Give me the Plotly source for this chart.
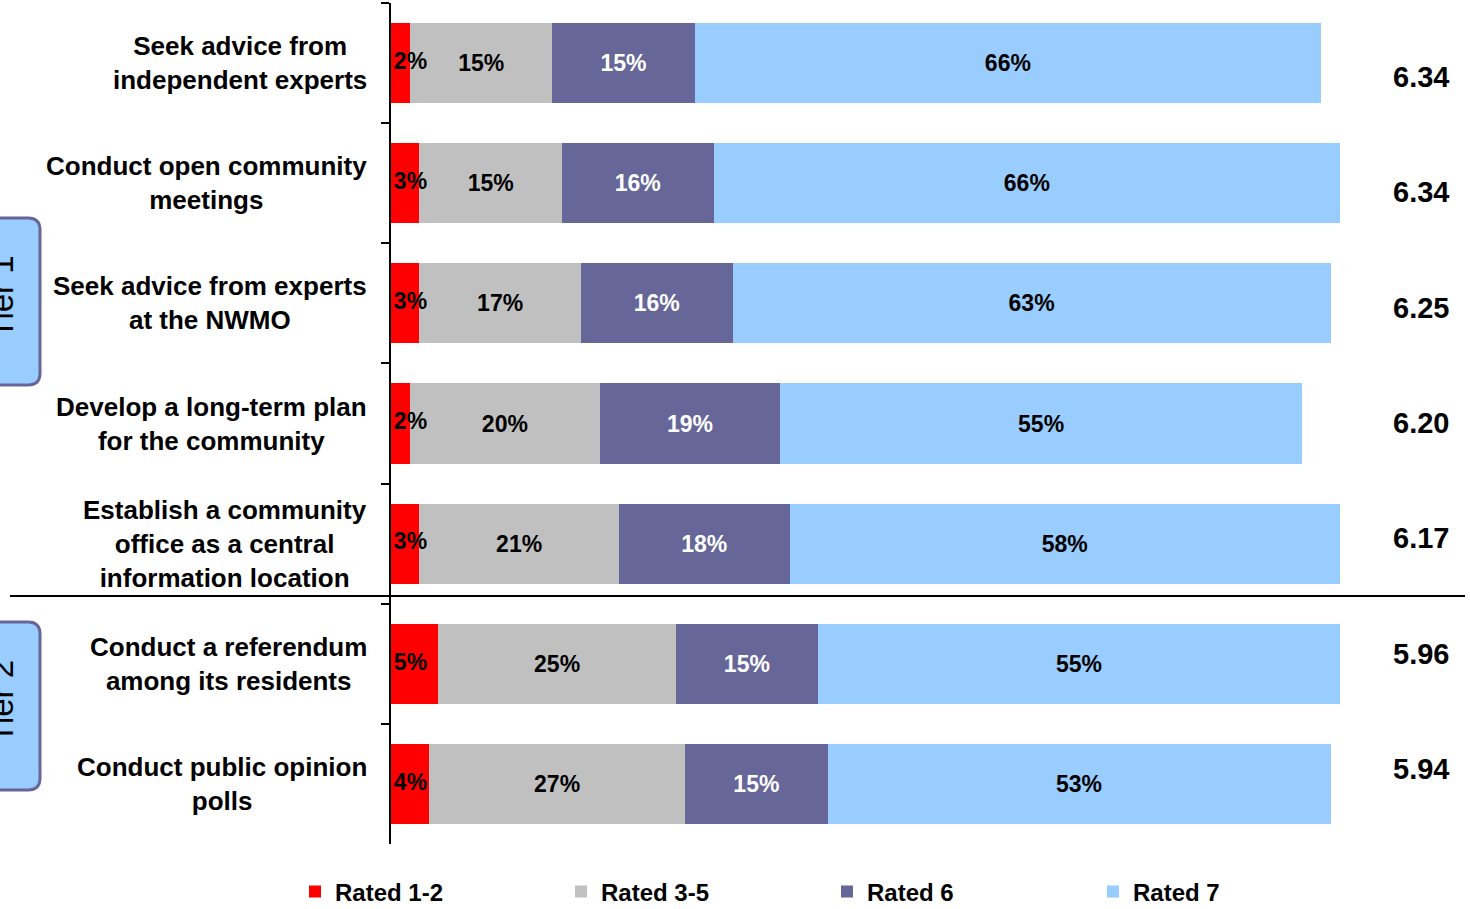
import plotly.graph_objects as go

categories = [
    "Seek advice from<br>independent experts",
    "Conduct open community<br>meetings",
    "Seek advice from experts<br>at the NWMO",
    "Develop a long-term plan<br>for the community",
    "Establish a community<br>office as a central<br>information location",
    "Conduct a referendum<br>among its residents",
    "Conduct public opinion<br>polls",
]
rated_1_2 = [2, 3, 3, 2, 3, 5, 4]
rated_3_5 = [15, 15, 17, 20, 21, 25, 27]
rated_6 = [15, 16, 16, 19, 18, 15, 15]
rated_7 = [66, 66, 63, 55, 58, 55, 53]
means = ["6.34", "6.34", "6.25", "6.20", "6.17", "5.96", "5.94"]
series_names = ["Rated 1-2", "Rated 3-5", "Rated 6", "Rated 7"]
tier_labels = ["Tier 1", "Tier 2"]

colors = ["#FF0000", "#C0C0C0", "#666699", "#99CCFF"]
text_colors = ["black", "black", "white", "black"]

W, H = 1470, 909
ML, MR, MT, MB = 391, 0, 3, 65
PW, PH = W - ML - MR, H - MT - MB
XMAX = 100 * PW / 949.0
LABEL_PAD = 0.3  # small gap between axis line and the red-segment labels

def px_x(px):
    return (px - ML) / PW

def px_y(py):
    return (H - MB - py) / PH

FONT = "Liberation Sans, Arial, sans-serif"

fig = go.Figure()
for k, (name, vals, col, tc) in enumerate(zip(series_names, [rated_1_2, rated_3_5, rated_6, rated_7], colors, text_colors)):
    fig.add_trace(go.Bar(
        name=name, y=categories, x=vals, orientation="h",
        marker=dict(color=col, line=dict(width=0)),
        text=None if k == 0 else [f"{v}%" for v in vals], textposition="inside",
        insidetextanchor="middle", constraintext="none", textangle=0,
        insidetextfont=dict(family=FONT, size=23, color=tc, weight="bold"),
        hoverinfo="skip",
    ))

# labels of the narrow red segments overflow onto the grey ones
fig.add_trace(go.Scatter(
    y=categories, x=[LABEL_PAD] * len(categories), mode="text",
    text=[f"{v}%" for v in rated_1_2], textposition="middle right",
    textfont=dict(family=FONT, size=23, color="black", weight="bold"),
    showlegend=False, hoverinfo="skip", cliponaxis=False,
))

annotations = []
for i, c in enumerate(categories):
    annotations.append(dict(
        xref="paper", yref="y", x=px_x(369), y=c, text=c, showarrow=False,
        xanchor="right", yanchor="middle", align="center",
        font=dict(family=FONT, size=26, color="black", weight="bold"),
    ))
    annotations.append(dict(
        xref="paper", yref="y", x=px_x(1421), y=c, text=means[i], showarrow=False,
        xanchor="center", yanchor="middle", yshift=-14 + 4.8 * i,
        font=dict(family=FONT, size=29, color="black", weight="bold"),
    ))

shapes = []
rx, ry = 12 / PW, 12 / PH
for (top, bot) in [(218, 385), (622, 790)]:
    x0, x1 = px_x(-20), px_x(40)
    y0, y1 = px_y(bot), px_y(top)
    path = (f"M {x0},{y0} L {x1-rx},{y0} Q {x1},{y0} {x1},{y0+ry} "
            f"L {x1},{y1-ry} Q {x1},{y1} {x1-rx},{y1} L {x0},{y1} Z")
    shapes.append(dict(type="path", xref="paper", yref="paper", path=path,
                       fillcolor="#99CCFF", line=dict(color="#666699", width=3), layer="above"))
for lab, (top, bot) in zip(tier_labels, [(218, 385), (622, 790)]):
    annotations.append(dict(
        xref="paper", yref="paper", x=px_x(1), y=px_y((top + bot) / 2 - 4), text=lab,
        showarrow=False, textangle=-90, xanchor="center", yanchor="middle",
        font=dict(family=FONT, size=33, color="black"),
    ))

shapes.append(dict(type="line", xref="paper", yref="paper",
                   x0=px_x(10), x1=px_x(1465), y0=px_y(596), y1=px_y(596),
                   line=dict(color="black", width=2)))

fig.update_layout(
    width=W, height=H, barmode="stack", bargap=0.334,
    margin=dict(l=ML, r=MR, t=MT, b=MB, autoexpand=False),
    plot_bgcolor="white", paper_bgcolor="white",
    xaxis=dict(range=[0, XMAX], visible=False, fixedrange=True),
    yaxis=dict(autorange="reversed", showticklabels=False, tickson="boundaries",
               ticks="outside", ticklen=8, tickcolor="black", tickwidth=1.5,
               showline=True, linecolor="black", linewidth=1.5, showgrid=False),
    legend=dict(orientation="h", x=px_x(295), xanchor="left", y=px_y(892), yanchor="middle",
                entrywidth=221, entrywidthmode="pixels", itemwidth=30,
                font=dict(family="Liberation Sans Narrow, Arial Narrow, " + FONT, size=24,
                          color="black", weight="bold"),
                traceorder="normal", bgcolor="rgba(0,0,0,0)"),
    annotations=annotations, shapes=shapes,
    showlegend=True,
)

fig.write_html("out.html", config={"displayModeBar": False},
               post_script="document.body.style.margin='0';document.body.style.overflow='hidden';")
